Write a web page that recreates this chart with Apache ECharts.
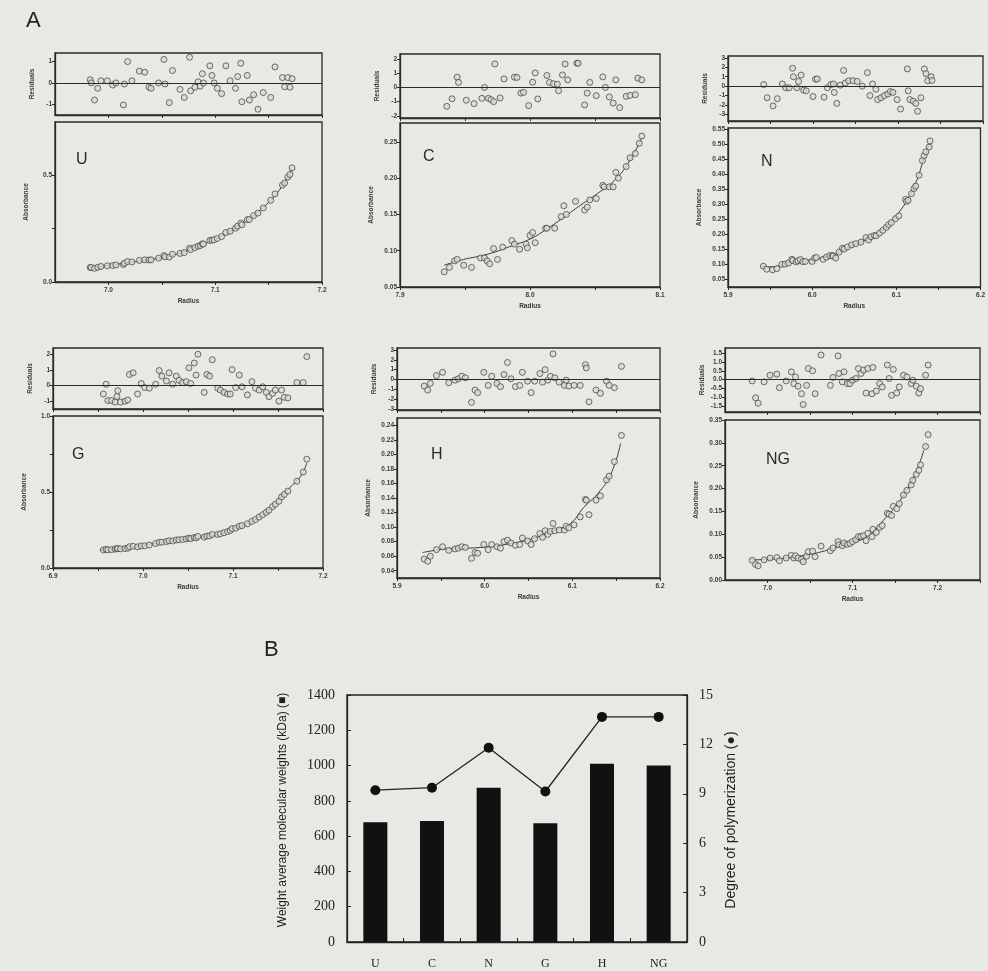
<!DOCTYPE html>
<html><head><meta charset="utf-8">
<script src="https://cdn.jsdelivr.net/npm/echarts@6/dist/echarts.min.js"></script>
<style>html,body{margin:0;padding:0;background:#e8e8e5}#c{width:988px;height:971px}</style>
</head><body><div id="c"></div>
<script>
// ---------- Panel A data ----------
// U
const uRadius = [6.983,6.984,6.987,6.990,6.993,6.999,7.004,7.007,7.014,7.015,7.018,7.022,7.029,7.034,7.038,7.040,7.047,7.052,7.053,7.057,7.060,7.067,7.071,7.076,7.077,7.081,7.084,7.086,7.088,7.089,7.095,7.097,7.099,7.102,7.106,7.110,7.114,7.119,7.121,7.124,7.125,7.130,7.132,7.136,7.140,7.145,7.152,7.156,7.163,7.165,7.168,7.170,7.172];
const uResid = [0.15,0.0,-0.8,-0.25,0.1,0.1,-0.1,0.0,-1.03,-0.05,1.0,0.1,0.55,0.5,-0.2,-0.25,0.0,1.1,-0.05,-0.92,0.58,-0.3,-0.68,1.2,-0.37,-0.2,0.05,-0.15,0.43,0.0,0.8,0.35,0.0,-0.25,-0.5,0.8,0.1,-0.25,0.3,0.92,-0.88,0.35,-0.8,-0.55,-1.23,-0.45,-0.68,0.75,0.25,-0.18,0.25,-0.2,0.2];
const uAbs = [0.068,0.068,0.064,0.069,0.073,0.076,0.077,0.080,0.082,0.088,0.096,0.094,0.101,0.104,0.103,0.104,0.112,0.124,0.118,0.117,0.130,0.134,0.138,0.159,0.152,0.161,0.168,0.171,0.179,0.178,0.195,0.196,0.198,0.204,0.213,0.232,0.238,0.252,0.262,0.276,0.268,0.292,0.293,0.311,0.323,0.347,0.383,0.413,0.454,0.464,0.492,0.504,0.535];
const uFitR = [6.98,6.995,7.01,7.025,7.04,7.055,7.07,7.085,7.1,7.115,7.13,7.145,7.16,7.172];
const uFit = [0.066,0.074,0.085,0.095,0.105,0.12,0.14,0.17,0.2,0.24,0.29,0.35,0.43,0.53];
const uXTicks = [7.0,7.05,7.1,7.15,7.2];
const uXLabels = [7.0,7.1,7.2];
const uResTicks = [-1,0,1];
const uAbsTicks = [0,0.25,0.5];
const uAbsLabels = [0,0.5];

// C
const cResR = [7.936,7.940,7.944,7.945,7.951,7.957,7.963,7.965,7.968,7.970,7.972,7.973,7.977,7.980,7.988,7.990,7.993,7.995,7.999,8.002,8.004,8.006,8.013,8.015,8.018,8.021,8.022,8.025,8.027,8.029,8.036,8.037,8.042,8.044,8.046,8.051,8.056,8.058,8.061,8.064,8.066,8.069,8.074,8.077,8.081,8.083,8.086];
const cResid = [-1.33,-0.8,0.72,0.35,-0.9,-1.14,-0.77,0.0,-0.77,-0.86,-1.0,1.65,-0.74,0.6,0.72,0.7,-0.4,-0.35,-1.28,0.37,1.02,-0.81,0.84,0.35,0.26,0.23,-0.23,0.88,1.65,0.53,1.7,1.7,-1.23,-0.4,0.35,-0.58,0.74,0.0,-0.67,-1.1,0.53,-1.42,-0.63,-0.56,-0.51,0.65,0.53];
const cAbsR = [7.934,7.938,7.942,7.944,7.949,7.955,7.962,7.965,7.967,7.969,7.972,7.975,7.979,7.986,7.988,7.992,7.997,7.998,8.000,8.002,8.004,8.012,8.013,8.019,8.024,8.026,8.028,8.035,8.042,8.044,8.046,8.051,8.056,8.057,8.061,8.064,8.066,8.068,8.074,8.077,8.081,8.084,8.086];
const cAbs = [0.071,0.077,0.086,0.088,0.080,0.077,0.090,0.090,0.086,0.082,0.103,0.088,0.105,0.114,0.109,0.102,0.109,0.104,0.121,0.125,0.111,0.131,0.131,0.131,0.147,0.162,0.150,0.168,0.156,0.160,0.170,0.172,0.190,0.188,0.188,0.188,0.208,0.200,0.216,0.228,0.234,0.248,0.258];
const cFitR = [7.934,7.949,7.967,7.988,8.0,8.013,8.026,8.039,8.052,8.065,8.077,8.086];
const cFit = [0.080,0.088,0.095,0.108,0.116,0.130,0.146,0.163,0.179,0.197,0.225,0.256];
const cXTicks = [7.9,7.95,8.0,8.05,8.1];
const cXLabels = [7.9,8.0,8.1];
const cResTicks = [-2,-1,0,1,2];
const cAbsTicks = [0.05,0.10,0.15,0.20,0.25];

// N
const nRadius = [5.942,5.946,5.953,5.958,5.964,5.968,5.972,5.976,5.977,5.981,5.983,5.986,5.989,5.992,6.000,6.003,6.005,6.013,6.017,6.021,6.024,6.025,6.028,6.032,6.036,6.038,6.042,6.047,6.052,6.058,6.064,6.067,6.070,6.074,6.076,6.080,6.084,6.088,6.091,6.094,6.099,6.103,6.111,6.112,6.114,6.118,6.121,6.123,6.127,6.131,6.133,6.135,6.139,6.140];
const nResid = [0.17,-1.23,-2.1,-1.33,0.23,-0.17,-0.17,1.9,1.0,-0.17,0.5,1.17,-0.43,-0.5,-1.1,0.73,0.77,-1.17,-0.17,0.17,0.23,-0.67,-1.83,0.1,1.67,0.33,0.57,0.57,0.5,0.0,1.43,-1.0,0.23,-0.33,-1.43,-1.23,-1.0,-0.83,-0.57,-0.67,-1.43,-2.43,1.83,-0.5,-1.43,-1.6,-1.83,-2.67,-1.23,1.83,1.33,0.57,1.0,0.6];
const nAbs = [0.094,0.084,0.082,0.086,0.100,0.101,0.105,0.117,0.113,0.108,0.112,0.116,0.109,0.110,0.110,0.121,0.123,0.117,0.124,0.129,0.130,0.127,0.121,0.141,0.154,0.151,0.158,0.165,0.169,0.174,0.189,0.181,0.192,0.196,0.195,0.204,0.213,0.223,0.232,0.239,0.252,0.261,0.316,0.309,0.313,0.335,0.352,0.360,0.396,0.445,0.461,0.474,0.490,0.510];
const nFitR = [5.94,5.955,5.97,5.985,6.0,6.015,6.03,6.045,6.06,6.075,6.09,6.105,6.115,6.125,6.132,6.139];
const nFit = [0.092,0.092,0.104,0.110,0.116,0.124,0.137,0.160,0.176,0.200,0.232,0.280,0.325,0.385,0.445,0.500];
const nXTicks = [5.9,5.95,6.0,6.05,6.1,6.15,6.2];
const nXLabels = [5.9,6.0,6.1,6.2];
const nResTicks = [-3,-2,-1,0,1,2,3];
const nAbsTicks = [0.05,0.10,0.15,0.20,0.25,0.30,0.35,0.40,0.45,0.50,0.55];

// G
const gRadius = [6.956,6.959,6.961,6.965,6.969,6.971,6.972,6.975,6.980,6.983,6.985,6.989,6.994,6.998,7.002,7.007,7.014,7.018,7.021,7.026,7.029,7.033,7.037,7.040,7.044,7.048,7.051,7.053,7.057,7.059,7.061,7.068,7.071,7.074,7.077,7.083,7.086,7.090,7.094,7.097,7.099,7.103,7.107,7.110,7.116,7.121,7.125,7.129,7.133,7.137,7.140,7.144,7.147,7.151,7.154,7.157,7.161,7.171,7.178,7.182];
const gResid = [-0.54,0.08,-0.96,-0.96,-1.06,-0.7,-0.33,-1.06,-1.0,-0.92,0.71,0.81,-0.54,0.13,-0.13,-0.17,0.08,0.96,0.6,0.29,0.81,0.08,0.6,0.33,0.19,0.25,1.13,0.13,1.44,0.67,2.0,-0.44,0.71,0.6,1.65,-0.17,-0.29,-0.44,-0.54,-0.54,1.02,-0.13,0.67,-0.08,-0.6,0.25,-0.17,-0.29,-0.08,-0.44,-0.71,-0.5,-0.29,-1.0,-0.29,-0.75,-0.79,0.19,0.19,1.85];
const gAbs = [0.119,0.123,0.119,0.121,0.124,0.127,0.128,0.126,0.128,0.130,0.140,0.143,0.139,0.145,0.146,0.151,0.161,0.169,0.170,0.174,0.179,0.178,0.184,0.186,0.188,0.191,0.197,0.193,0.201,0.198,0.208,0.203,0.210,0.211,0.221,0.221,0.225,0.232,0.240,0.247,0.259,0.262,0.275,0.279,0.291,0.307,0.319,0.335,0.351,0.366,0.380,0.404,0.419,0.439,0.468,0.484,0.506,0.571,0.631,0.716];
const gFitR = [6.952,6.974,6.993,7.011,7.029,7.048,7.066,7.085,7.103,7.121,7.14,7.154,7.165,7.175,7.182];
const gFit = [0.120,0.131,0.142,0.160,0.175,0.190,0.204,0.225,0.263,0.306,0.383,0.470,0.540,0.602,0.690];
const gXTicks = [6.9,6.95,7.0,7.05,7.1,7.15,7.2];
const gXLabels = [6.9,7.0,7.1,7.2];
const gResTicks = [-1,0,1,2];
const gAbsTicks = [0,0.25,0.5,0.75,1.0];
const gAbsLabels = [0,0.5,1.0];

// H
const hRadius = [5.931,5.935,5.938,5.945,5.952,5.959,5.966,5.970,5.974,5.978,5.985,5.989,5.992,5.999,6.004,6.008,6.014,6.018,6.022,6.026,6.030,6.035,6.040,6.043,6.049,6.053,6.057,6.063,6.066,6.069,6.072,6.075,6.078,6.080,6.085,6.091,6.093,6.096,6.102,6.109,6.115,6.116,6.119,6.127,6.132,6.139,6.142,6.148,6.156];
const hResid = [-0.67,-1.07,-0.4,0.4,0.73,-0.33,-0.07,0.07,0.33,0.17,-2.33,-1.07,-1.33,0.73,-0.6,0.33,-0.4,-0.73,0.5,1.73,0.07,-0.73,-0.6,0.73,-0.17,-1.33,-0.17,0.6,-0.27,1.0,-0.07,0.33,2.6,0.17,-0.27,-0.6,-0.07,-0.67,-0.6,-0.6,1.5,1.17,-2.27,-1.07,-1.4,-0.17,-0.6,-0.83,1.33];
const hAbs = [0.056,0.053,0.060,0.069,0.073,0.068,0.070,0.071,0.073,0.072,0.057,0.065,0.064,0.076,0.069,0.076,0.073,0.071,0.080,0.082,0.078,0.075,0.076,0.085,0.081,0.076,0.084,0.091,0.086,0.095,0.090,0.094,0.105,0.095,0.096,0.096,0.101,0.099,0.103,0.114,0.138,0.137,0.117,0.137,0.143,0.165,0.170,0.190,0.226];
const hFitR = [5.929,5.957,5.995,6.033,6.06,6.083,6.098,6.113,6.129,6.144,6.155];
const hFit = [0.065,0.070,0.072,0.078,0.086,0.097,0.105,0.127,0.146,0.173,0.215];
const hXTicks = [5.9,5.95,6.0,6.05,6.1,6.15,6.2];
const hXLabels = [5.9,6.0,6.1,6.2];
const hResTicks = [-3,-2,-1,0,1,2,3];
const hAbsTicks = [0.04,0.06,0.08,0.10,0.12,0.14,0.16,0.18,0.20,0.22,0.24];

// NG
const ngRadius = [6.982,6.986,6.989,6.996,7.003,7.011,7.014,7.022,7.028,7.031,7.033,7.036,7.040,7.042,7.046,7.048,7.053,7.056,7.063,7.074,7.077,7.083,7.084,7.088,7.090,7.094,7.097,7.100,7.104,7.107,7.110,7.113,7.116,7.118,7.123,7.124,7.128,7.132,7.135,7.141,7.143,7.146,7.148,7.152,7.155,7.160,7.164,7.169,7.171,7.175,7.178,7.180,7.186,7.189];
const ngResid = [-0.08,-1.04,-1.35,-0.13,0.25,0.31,-0.46,-0.08,0.44,-0.23,0.15,-0.38,-0.81,-1.42,-0.33,0.63,0.5,-0.81,1.4,-0.33,0.12,1.35,0.35,-0.13,0.44,-0.23,-0.23,-0.04,0.06,0.63,0.35,0.54,-0.77,0.63,-0.81,0.69,-0.65,-0.23,-0.42,0.83,0.06,-0.9,0.58,-0.77,-0.42,0.25,0.15,-0.23,-0.04,-0.38,-0.77,-0.52,0.25,0.83];
const ngAbs = [0.043,0.034,0.031,0.044,0.048,0.049,0.042,0.048,0.054,0.048,0.053,0.048,0.045,0.040,0.052,0.062,0.063,0.051,0.074,0.064,0.070,0.084,0.077,0.075,0.081,0.078,0.080,0.084,0.088,0.095,0.095,0.097,0.086,0.102,0.095,0.111,0.104,0.115,0.119,0.146,0.144,0.141,0.161,0.156,0.167,0.186,0.196,0.208,0.218,0.231,0.240,0.252,0.292,0.318];
const ngFitR = [6.98,7.008,7.04,7.068,7.092,7.116,7.14,7.156,7.172,7.184];
const ngFit = [0.044,0.046,0.053,0.064,0.079,0.094,0.138,0.174,0.225,0.284];
const ngXTicks = [7.0,7.05,7.1,7.15,7.2,7.25];
const ngXLabels = [7.0,7.1,7.2];
const ngResTicks = [-1.5,-1.0,-0.5,0,0.5,1.0,1.5];
const ngAbsTicks = [0,0.05,0.10,0.15,0.20,0.25,0.30,0.35];

// ---------- Panel B data ----------
const bCategories = ['U','C','N','G','H','NG'];
const bMolWeight = [679, 686, 875, 673, 1010, 1000];
const bDegreePoly = [9.22, 9.37, 11.8, 9.14, 13.67, 13.67];

// ---------- panel definitions ----------
const panels = [
  {label:'U', resR:uRadius, res:uResid, absR:uRadius, abs:uAbs, fitR:uFitR, fit:uFit,
   xMin:6.95, xMax:7.2, xTicks:uXTicks, xLabels:uXLabels,
   resMin:-1.5, resMax:1.4, resTicks:uResTicks, resLabels:uResTicks, resDec:0,
   absMin:0, absMax:0.75, absTicks:uAbsTicks, absLabels:uAbsLabels, absDec:1},
  {label:'C', resR:cResR, res:cResid, absR:cAbsR, abs:cAbs, fitR:cFitR, fit:cFit,
   xMin:7.9, xMax:8.1, xTicks:cXTicks, xLabels:cXLabels,
   resMin:-2.15, resMax:2.35, resTicks:cResTicks, resLabels:cResTicks, resDec:0,
   absMin:0.05, absMax:0.276, absTicks:cAbsTicks, absLabels:cAbsTicks, absDec:2},
  {label:'N', resR:nRadius, res:nResid, absR:nRadius, abs:nAbs, fitR:nFitR, fit:nFit,
   xMin:5.9, xMax:6.2, xTicks:nXTicks, xLabels:nXLabels,
   resMin:-3.7, resMax:3.2, resTicks:nResTicks, resLabels:nResTicks, resDec:0,
   absMin:0.025, absMax:0.553, absTicks:nAbsTicks, absLabels:nAbsTicks, absDec:2},
  {label:'G', resR:gRadius, res:gResid, absR:gRadius, abs:gAbs, fitR:gFitR, fit:gFit,
   xMin:6.9, xMax:7.2, xTicks:gXTicks, xLabels:gXLabels,
   resMin:-1.5, resMax:2.4, resTicks:gResTicks, resLabels:gResTicks, resDec:0,
   absMin:0, absMax:1.0, absTicks:gAbsTicks, absLabels:gAbsLabels, absDec:1},
  {label:'H', resR:hRadius, res:hResid, absR:hRadius, abs:hAbs, fitR:hFitR, fit:hFit,
   xMin:5.9, xMax:6.2, xTicks:hXTicks, xLabels:hXLabels,
   resMin:-3.1, resMax:3.2, resTicks:hResTicks, resLabels:hResTicks, resDec:0,
   absMin:0.03, absMax:0.25, absTicks:hAbsTicks, absLabels:hAbsTicks, absDec:2},
  {label:'NG', resR:ngRadius, res:ngResid, absR:ngRadius, abs:ngAbs, fitR:ngFitR, fit:ngFit,
   xMin:6.95, xMax:7.25, xTicks:ngXTicks, xLabels:ngXLabels,
   resMin:-1.85, resMax:1.8, resTicks:ngResTicks, resLabels:ngResTicks, resDec:1,
   absMin:0, absMax:0.35, absTicks:ngAbsTicks, absLabels:ngAbsTicks, absDec:2}
];

// layout: [left, top, width, height]
const layout = [
  {res:[55,53,267,62],  abs:[55,122,267,160],  letter:[84,161]},
  {res:[400,54,260,64], abs:[400,123,260,164], letter:[431,158]},
  {res:[728,56,255,65], abs:[728,128,255,159], letter:[769,163]},
  {res:[53,348,270,61], abs:[53,416,270,152],  letter:[80,456]},
  {res:[397,348,263,62],abs:[397,418,263,160], letter:[439,456]},
  {res:[725,348,255,64],abs:[725,420,255,160], letter:[774,461]}
];

const INK = '#2a2a2a';
const tickFont = {fontFamily:'Liberation Sans, Arial', fontSize:6.5, fontWeight:'bold', color:'#3a3a3a'};
const nameFont = {fontFamily:'Liberation Sans, Arial', fontSize:6.5, fontWeight:'bold', color:'#3a3a3a'};
const circleStyle = {color:'#d9d9d4', borderColor:'#3a3a3a', borderWidth:0.9};

const grids = [], xAxes = [], yAxes = [], series = [], graphics = [];

panels.forEach((p, i) => {
  const L = layout[i];
  ['res','abs'].forEach((kind) => {
    const gi = grids.length;
    const r = L[kind];
    grids.push({left:r[0], top:r[1], width:r[2], height:r[3], show:true,
      borderColor:INK, borderWidth:1.3, backgroundColor:'transparent', containLabel:false});
    const isAbs = kind === 'abs';
    xAxes.push({type:'value', gridIndex:gi, min:p.xMin, max:p.xMax,
      axisLine:{show:true, onZero:false, lineStyle:{color:INK, width:1.3}},
      axisTick:{show:true, inside:false, length:3, customValues:p.xTicks, lineStyle:{color:INK, width:1}},
      axisLabel:{show:isAbs, customValues:p.xLabels, margin:5, formatter:v=>v.toFixed(1), ...tickFont},
      splitLine:{show:false},
      name:isAbs ? 'Radius' : '', nameLocation:'middle', nameGap:16, nameTextStyle:nameFont});
    const yMin = isAbs ? p.absMin : p.resMin;
    const yMax = isAbs ? p.absMax : p.resMax;
    const dec = isAbs ? p.absDec : p.resDec;
    yAxes.push({type:'value', gridIndex:gi, min:yMin, max:yMax,
      axisLine:{show:true, onZero:false, lineStyle:{color:INK, width:1.3}},
      axisTick:{show:true, inside:false, length:3, customValues:isAbs ? p.absTicks : p.resTicks, lineStyle:{color:INK, width:1}},
      axisLabel:{show:true, customValues:isAbs ? p.absLabels : p.resLabels, margin:3, formatter:v=>v.toFixed(dec), ...tickFont},
      splitLine:{show:false},
      name:isAbs ? 'Absorbance' : 'Residuals', nameLocation:'middle', nameRotate:90,
      nameGap:isAbs ? 25 : 19, nameTextStyle:nameFont});
    if (isAbs) {
      series.push({type:'line', xAxisIndex:gi, yAxisIndex:gi, smooth:true, showSymbol:false, symbol:'none',
        data:p.fitR.map((x,j)=>[x,p.fit[j]]), lineStyle:{color:'#3a3a3a', width:1}, z:2, silent:true});
      series.push({type:'scatter', xAxisIndex:gi, yAxisIndex:gi, symbol:'circle', symbolSize:6,
        data:p.absR.map((x,j)=>[x,p.abs[j]]), itemStyle:circleStyle, z:3});
    } else {
      series.push({type:'scatter', xAxisIndex:gi, yAxisIndex:gi, symbol:'circle', symbolSize:6,
        data:p.resR.map((x,j)=>[x,p.res[j]]), itemStyle:circleStyle, z:3,
        markLine:{silent:true, symbol:['none','none'], label:{show:false},
          lineStyle:{color:INK, width:1.2, type:'solid'}, data:[{yAxis:0}]}});
    }
  });
  graphics.push({type:'text', left:L.letter[0]-8, top:L.letter[1]-9,
    style:{text:p.label, fontFamily:'Liberation Sans, Arial', fontSize:16, fill:'#2a2a2a'}});
});

// ---------- Panel B ----------
const bGrid = grids.length;
grids.push({left:347, top:695, width:340, height:247, show:true, borderColor:'#222', borderWidth:1.3, backgroundColor:'transparent'});
xAxes.push({type:'category', gridIndex:bGrid, data:bCategories, boundaryGap:true,
  axisLine:{show:true, lineStyle:{color:'#222', width:1.3}},
  axisTick:{show:true, inside:true, length:4, alignWithLabel:false, lineStyle:{color:'#222'}},
  axisLabel:{fontFamily:'Liberation Serif, Times New Roman', fontSize:12, color:'#222', margin:16}});
yAxes.push({type:'value', gridIndex:bGrid, min:0, max:1400, interval:200, position:'left',
  axisLine:{show:true, lineStyle:{color:'#222', width:1.3}},
  axisTick:{show:true, inside:true, length:4, lineStyle:{color:'#222'}},
  axisLabel:{fontFamily:'Liberation Serif, Times New Roman', fontSize:14, color:'#222', margin:12, formatter:v=>String(v)},
  splitLine:{show:false}});
yAxes.push({type:'value', gridIndex:bGrid, min:0, max:15, interval:3, position:'right',
  axisLine:{show:true, lineStyle:{color:'#222', width:1.3}},
  axisTick:{show:true, inside:true, length:4, lineStyle:{color:'#222'}},
  axisLabel:{fontFamily:'Liberation Serif, Times New Roman', fontSize:14, color:'#222', margin:12, formatter:v=>String(v)},
  splitLine:{show:false}});
series.push({type:'bar', xAxisIndex:bGrid, yAxisIndex:bGrid, data:bMolWeight, barWidth:24,
  itemStyle:{color:'#111'}});
series.push({type:'line', xAxisIndex:bGrid, yAxisIndex:bGrid+1, data:bDegreePoly,
  symbol:'circle', symbolSize:10, itemStyle:{color:'#111'}, lineStyle:{color:'#222', width:1.3}});

graphics.push({type:'text', left:26, top:10, style:{text:'A', fontFamily:'Liberation Sans, Arial', fontSize:22, fill:'#222'}});
graphics.push({type:'text', left:264, top:639, style:{text:'B', fontFamily:'Liberation Sans, Arial', fontSize:22, fill:'#222'}});
graphics.push({type:'text', x:283, y:810, rotation:Math.PI/2,
  style:{text:'Weight average molecular weights (kDa) (■)', fontFamily:'Liberation Sans, Arial', fontSize:12,
    fill:'#222', align:'center', verticalAlign:'middle'}});
graphics.push({type:'text', x:731, y:820, rotation:Math.PI/2,
  style:{text:'Degree of polymerization (●)', fontFamily:'Liberation Sans, Arial', fontSize:14,
    fill:'#222', align:'center', verticalAlign:'middle'}});

const chart = echarts.init(document.getElementById('c'), null, {renderer:'canvas'});
chart.setOption({
  backgroundColor:'#e8e8e5',
  animation:false,
  grid:grids, xAxis:xAxes, yAxis:yAxes, series:series, graphic:graphics
});
</script></body></html>
